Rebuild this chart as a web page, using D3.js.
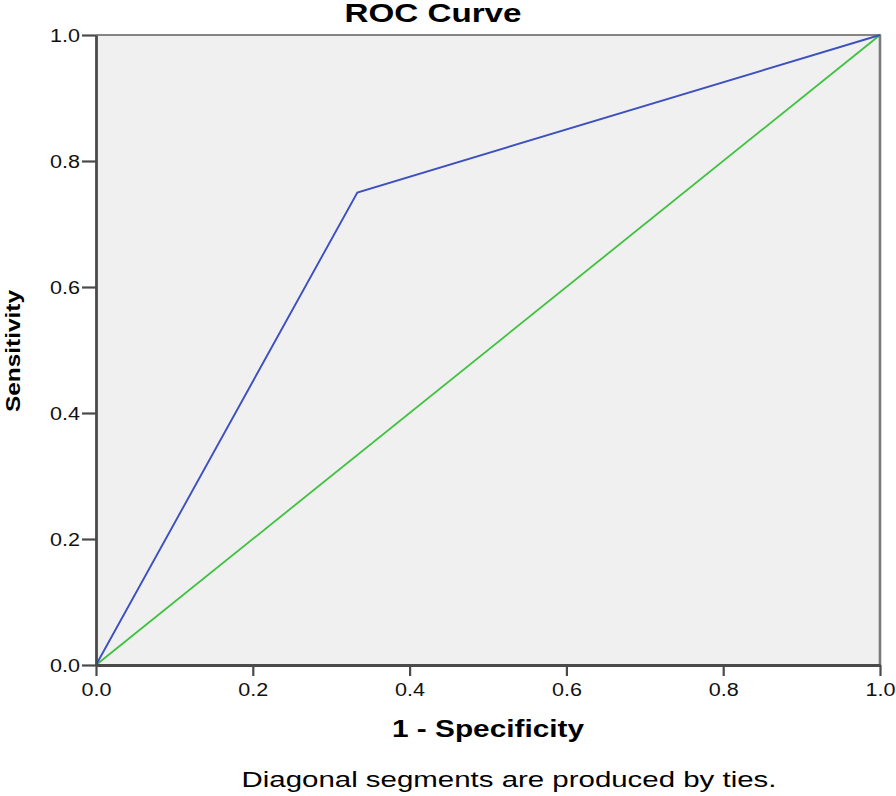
<!DOCTYPE html>
<html><head><meta charset="utf-8">
<script src="https://cdn.jsdelivr.net/npm/d3@7"></script>
<style>body{margin:0;background:#fff}text{font-family:"Liberation Sans",Arial,sans-serif}</style>
</head><body>
<svg id="c" width="896" height="796"></svg>
<script>
const rocX = [0, 1/3, 1];
const rocY = [0, 0.75, 1];
const refX = [0, 1];
const refY = [0, 1];
const tickVals = [0, 0.2, 0.4, 0.6, 0.8, 1.0];
const tickLabels = ["0.0","0.2","0.4","0.6","0.8","1.0"];

const svg = d3.select("#c");
const L=96, R=880, T=35, B=665;
const x = d3.scaleLinear().domain([0,1]).range([L,R]);
const y = d3.scaleLinear().domain([0,1]).range([B,T]);

svg.append("rect").attr("x",L).attr("y",T).attr("width",R-L).attr("height",B-T).attr("fill","#f0f0f0");
svg.append("line").attr("x1",L).attr("x2",R+1).attr("y1",T).attr("y2",T).attr("stroke","#858585").attr("stroke-width",2.2);
svg.append("line").attr("x1",R).attr("x2",R).attr("y1",T).attr("y2",B).attr("stroke","#7a7a7a").attr("stroke-width",2.6);

const line = d3.line().x(d=>x(d[0])).y(d=>y(d[1]));
svg.append("path").datum(refX.map((v,i)=>[v,refY[i]])).attr("d",line).attr("fill","none").attr("stroke","#3ec23e").attr("stroke-width",1.8);
svg.append("path").datum(rocX.map((v,i)=>[v,rocY[i]])).attr("d",line).attr("fill","none").attr("stroke","#3d50bf").attr("stroke-width",1.9);

const xa = svg.append("g").attr("transform",`translate(0,${B})`)
  .call(d3.axisBottom(x).tickValues(tickVals).tickFormat((d,i)=>tickLabels[i]).tickSize(11).tickSizeOuter(0));
const ya = svg.append("g").attr("transform",`translate(${L},0)`)
  .call(d3.axisLeft(y).tickValues(tickVals).tickFormat((d,i)=>tickLabels[i]).tickSize(14).tickSizeOuter(0));
[xa,ya].forEach(a=>{
  a.select(".domain").attr("stroke","#4a4a4a").attr("stroke-width",2.8);
  a.selectAll(".tick line").attr("stroke","#4a4a4a").attr("stroke-width",2.2);
  a.selectAll(".tick text").attr("fill","#111").style("font-size","18px")
    .attr("textLength",30).attr("lengthAdjust","spacingAndGlyphs");
});
xa.selectAll(".tick text").attr("dy",null).attr("y",31);
ya.selectAll(".tick text").attr("x",-16).attr("dy","0.36em");

svg.append("text").attr("x",433).attr("y",22).attr("text-anchor","middle").style("font-size","25px").style("font-weight","bold")
  .attr("textLength",177).attr("lengthAdjust","spacingAndGlyphs").text("ROC Curve");
svg.append("text").attr("transform","translate(20,351) rotate(-90)").attr("text-anchor","middle").style("font-size","21px").style("font-weight","bold")
  .attr("textLength",122).attr("lengthAdjust","spacingAndGlyphs").text("Sensitivity");
svg.append("text").attr("x",488).attr("y",737).attr("text-anchor","middle").style("font-size","23px").style("font-weight","bold")
  .attr("textLength",192).attr("lengthAdjust","spacingAndGlyphs").text("1 - Specificity");
svg.append("text").attr("x",509).attr("y",787).attr("text-anchor","middle").style("font-size","22px")
  .attr("textLength",535).attr("lengthAdjust","spacingAndGlyphs").text("Diagonal segments are produced by ties.");
</script>
</body></html>
